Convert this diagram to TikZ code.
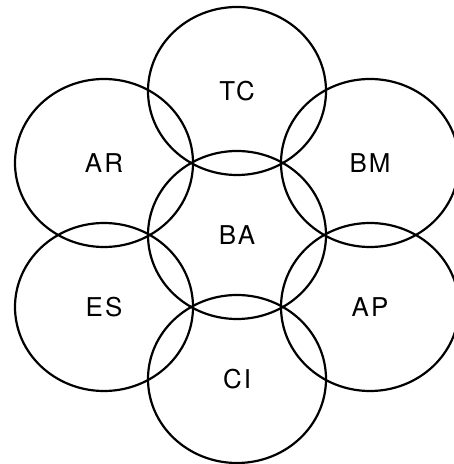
\documentclass[tikz,border=0pt]{standalone}
\usepackage{fontspec}
\setsansfont{TeX Gyre Heros}[LetterSpace=8]
\usetikzlibrary{shapes.geometric}
\tikzset{region/.style={draw, ellipse, line width=2.2bp, inner sep=0pt,
    minimum width=178bp, minimum height=168bp,
    font=\sffamily\fontsize{26}{26}\selectfont}}

\begin{document}
\begin{tikzpicture}[x=1bp,y=1bp]
    \useasboundingbox (0,0) rectangle (454,464);
    \node[region] (BA) at (237,229) {BA};
    \node[region] (TC) at (237,373) {TC};
    \node[region] (CI) at (237,85) {CI};
    \node[region] (AR) at (104,301) {AR};
    \node[region] (BM) at (370,301) {BM};
    \node[region] (ES) at (104,157) {ES};
    \node[region] (AP) at (370,157) {AP};
\end{tikzpicture}
\end{document}
